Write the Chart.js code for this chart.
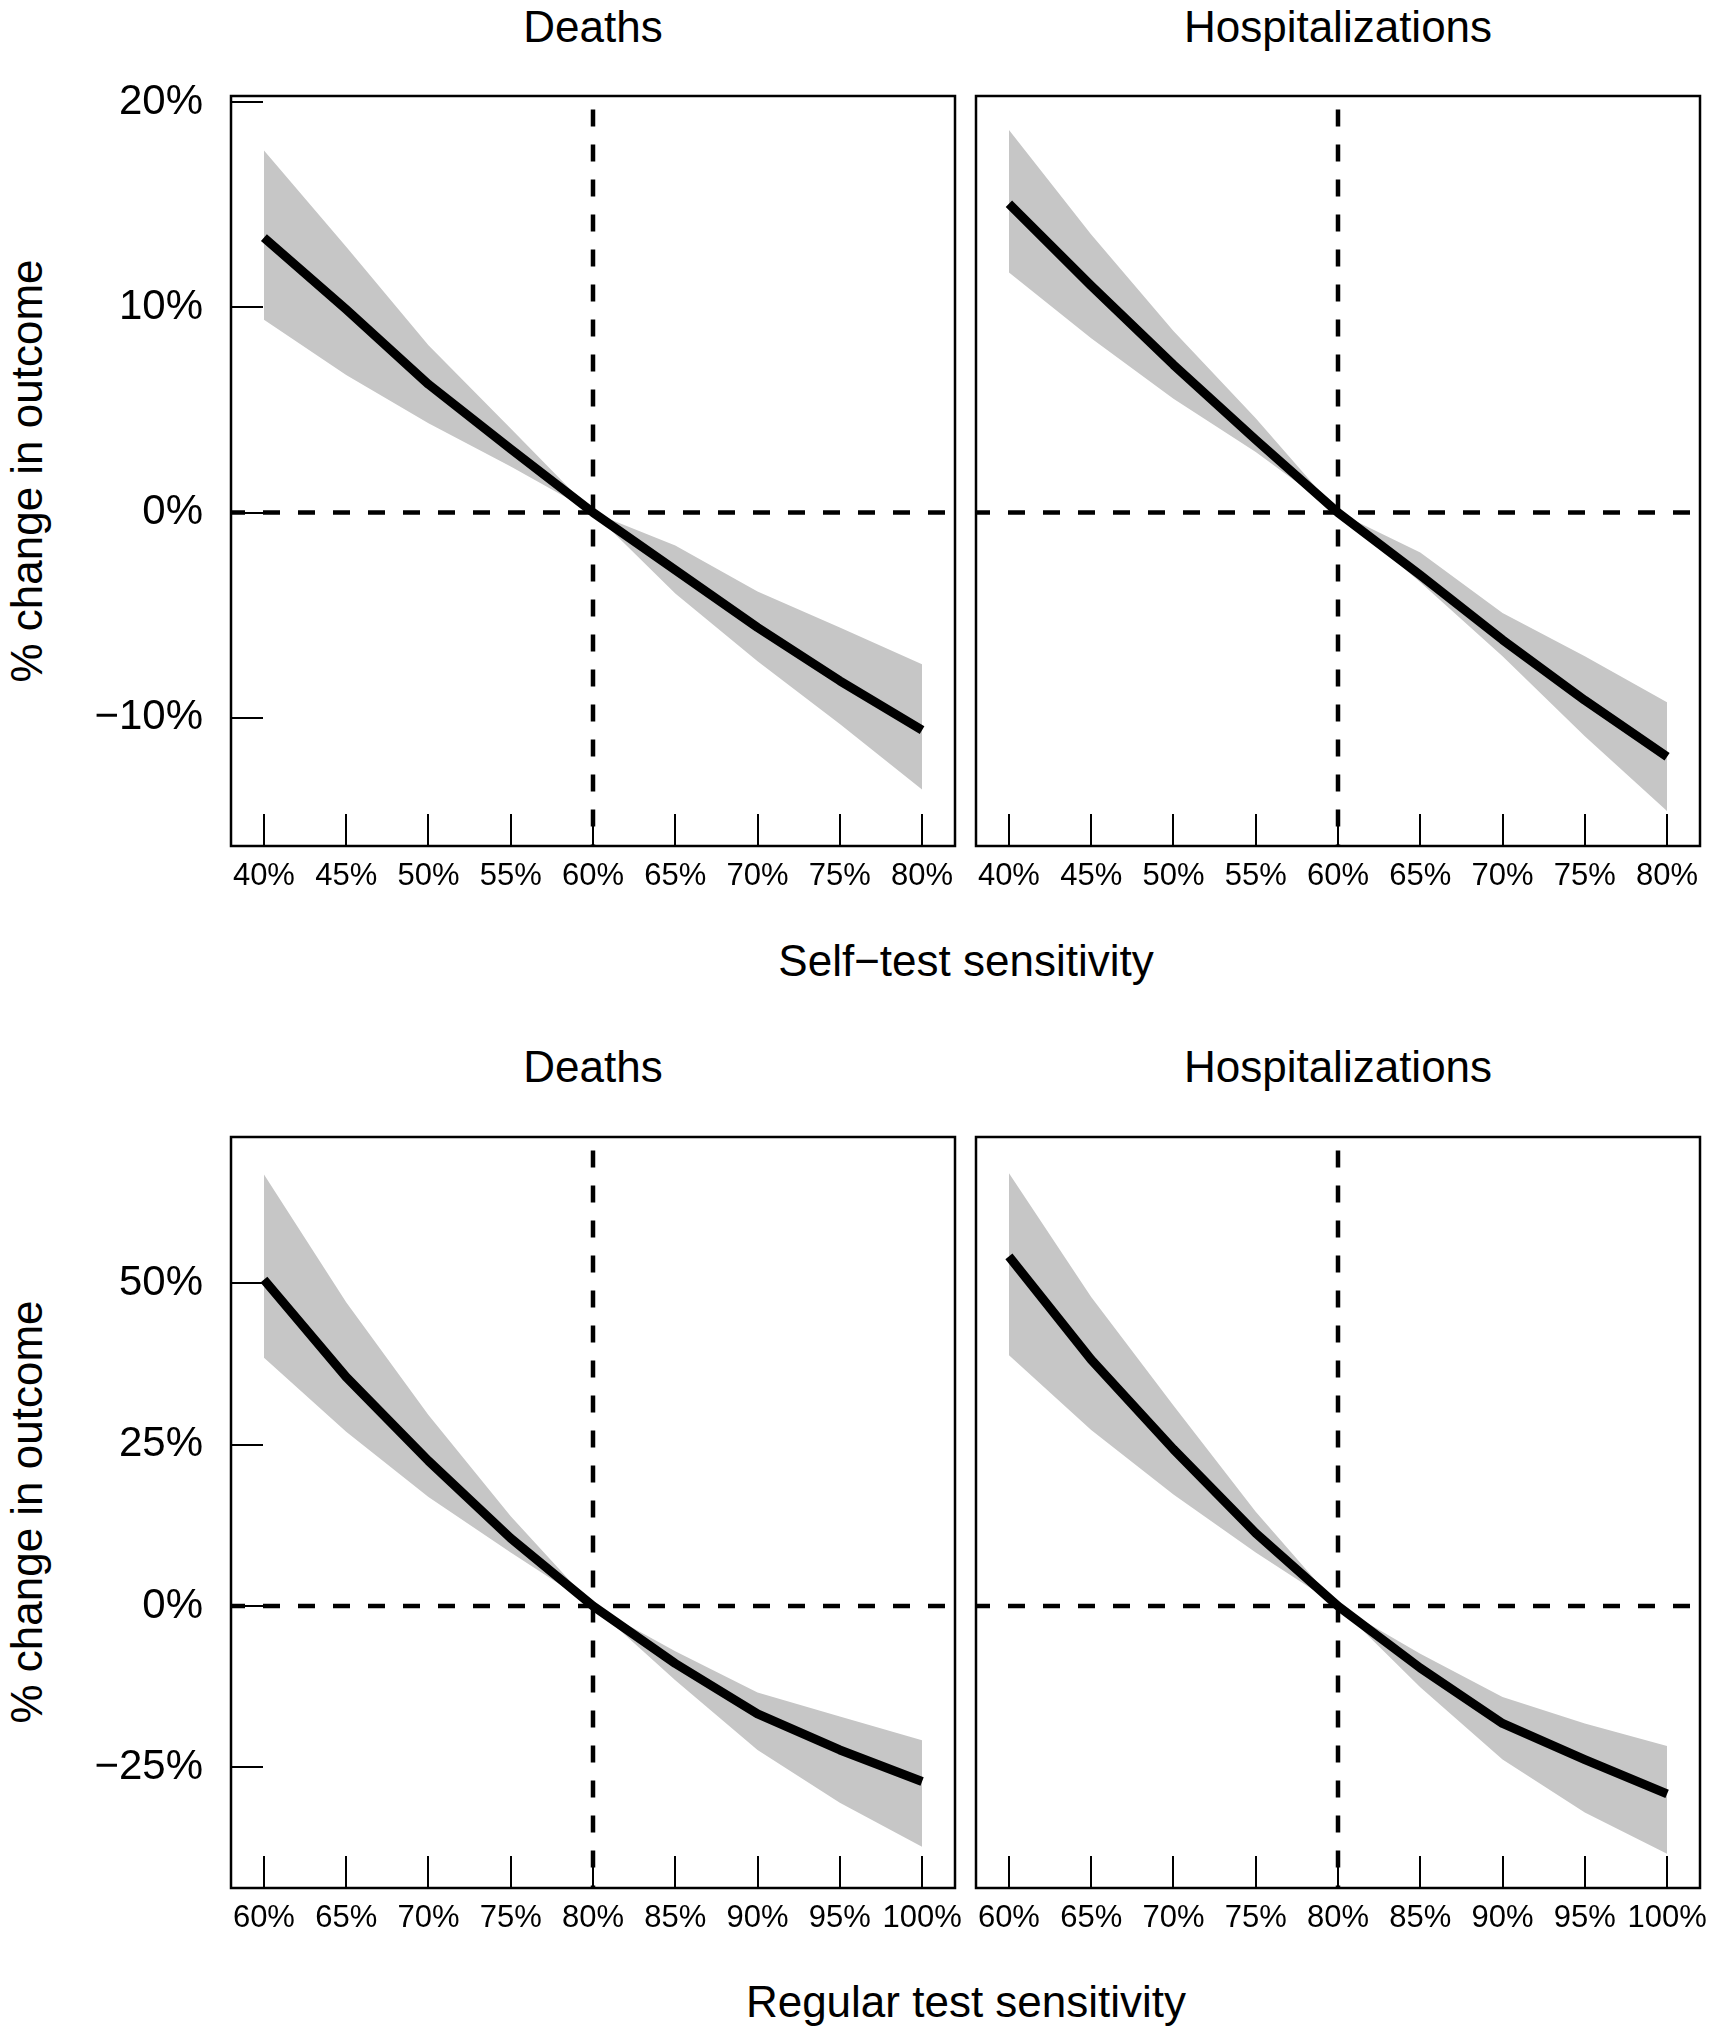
<!DOCTYPE html>
<html><head><meta charset="utf-8">
<script src="https://cdn.jsdelivr.net/npm/chart.js@4.4.1/dist/chart.umd.min.js"></script>
<style>
html,body{margin:0;padding:0;background:#fff;}
body{width:1713px;height:2031px;position:relative;overflow:hidden;font-family:'Liberation Sans',Arial,Helvetica,sans-serif;color:#000;}
canvas{position:absolute;}
.t{position:absolute;font-size:44px;line-height:44px;white-space:nowrap;text-align:center;width:800px;}
.yt{position:absolute;font-size:44px;line-height:44px;white-space:nowrap;text-align:center;width:800px;transform:rotate(-90deg);}
</style></head>
<body>
<div class="t" style="left:193px;top:5px">Deaths</div>
<div class="t" style="left:938px;top:5px">Hospitalizations</div>
<div class="t" style="left:193px;top:1045px">Deaths</div>
<div class="t" style="left:938px;top:1045px">Hospitalizations</div>
<div class="t" style="left:566px;top:939px">Self−test sensitivity</div>
<div class="t" style="left:566px;top:1980px">Regular test sensitivity</div>
<div class="yt" style="left:-373px;top:449px">% change in outcome</div>
<div class="yt" style="left:-373px;top:1490px">% change in outcome</div>
<canvas id="c1" width="985" height="860" style="left:0px;top:46px"></canvas>
<canvas id="c2" width="753" height="860" style="left:960px;top:46px"></canvas>
<canvas id="c3" width="985" height="861" style="left:0px;top:1087px"></canvas>
<canvas id="c4" width="753" height="861" style="left:960px;top:1087px"></canvas>
<script>
// ---- data ----
const selfX = [40, 45, 50, 55, 60, 65, 70, 75, 80];
const regX  = [60, 65, 70, 75, 80, 85, 90, 95, 100];

const selfYTicks = [-10, 0, 10, 20];
const regYTicks  = [-25, 0, 25, 50];

// Deaths vs self-test sensitivity
const deathsSelfMid   = [13.4, 9.9, 6.25, 3.1, 0, -2.8, -5.6, -8.2, -10.6];
const deathsSelfUpper = [17.65, 12.95, 8.15, 4.1, 0, -1.6, -3.85, -5.6, -7.4];
const deathsSelfLower = [9.4, 6.7, 4.35, 2.25, 0, -3.95, -7.25, -10.3, -13.5];

// Hospitalizations vs self-test sensitivity
const hospSelfMid   = [15.05, 11.05, 7.2, 3.55, 0, -3.05, -6.2, -9.15, -11.9];
const hospSelfUpper = [18.65, 13.55, 8.85, 4.6, 0, -1.95, -4.9, -7.0, -9.25];
const hospSelfLower = [11.7, 8.5, 5.55, 2.95, 0, -3.4, -7.0, -10.9, -14.55];

// Deaths vs regular test sensitivity
const deathsRegMid   = [50.6, 35.5, 22.5, 10.5, 0, -8.9, -16.7, -22.3, -27.2];
const deathsRegUpper = [66.9, 47.1, 29.6, 13.9, 0, -7.0, -13.4, -17.1, -20.8];
const deathsRegLower = [38.5, 27.0, 16.9, 8.3, 0, -11.5, -22.3, -30.5, -37.3];

// Hospitalizations vs regular test sensitivity
const hospRegMid   = [54.2, 38.2, 24.3, 11.3, 0, -9.6, -18.2, -23.8, -29.1];
const hospRegUpper = [67.1, 47.9, 31.1, 14.6, 0, -7.4, -14.1, -18.2, -21.7];
const hospRegLower = [38.9, 27.3, 17.3, 8.3, 0, -12.6, -23.8, -32.0, -38.4];

const selfRefX = 60, regRefX = 80;
const selfXRange = [38, 82], regXRange = [58, 102];
const selfYRange = [-16.25, 20.3], regYRange = [-43.7, 72.7];

// ---- drawing ----
const FONT = "'Liberation Sans', Arial, Helvetica, sans-serif";
const fmt = v => (v < 0 ? '\u2212' : '') + Math.abs(v) + '%';
const pts = (xs, ys) => xs.map((x, i) => ({x: x, y: ys[i]}));

const decor = {
  id: 'decor',
  beforeDatasetsDraw(chart, args, o) {
    const {ctx, chartArea: a, scales: {x, y}} = chart;
    ctx.save();
    ctx.strokeStyle = '#000';
    ctx.lineWidth = 4.5;
    ctx.lineCap = 'butt';
    ctx.setLineDash([17, 18]);
    const py = y.getPixelForValue(0);
    ctx.lineDashOffset = 3;
    ctx.beginPath(); ctx.moveTo(a.left, py); ctx.lineTo(a.right, py); ctx.stroke();
    const px = x.getPixelForValue(o.refX);
    ctx.lineDashOffset = 21.5;
    ctx.beginPath(); ctx.moveTo(px, a.top); ctx.lineTo(px, a.bottom); ctx.stroke();
    ctx.restore();
  },
  afterDatasetsDraw(chart, args, o) {
    const {ctx, chartArea: a, scales: {x, y}} = chart;
    ctx.save();
    ctx.strokeStyle = '#000';
    ctx.setLineDash([]);
    ctx.lineWidth = 2;
    ctx.beginPath();
    x.ticks.forEach(t => {
      const p = Math.round(x.getPixelForValue(t.value));
      ctx.moveTo(p, a.bottom); ctx.lineTo(p, a.bottom - 32);
    });
    if (o.yTicks) {
      y.ticks.forEach(t => {
        const p = Math.round(y.getPixelForValue(t.value));
        ctx.moveTo(a.left, p); ctx.lineTo(a.left + 32, p);
      });
    }
    ctx.stroke();
    ctx.lineWidth = 2.5;
    ctx.strokeRect(a.left, a.top, a.right - a.left, a.bottom - a.top);
    ctx.restore();
  }
};

function makePanel(id, xs, mid, up, lo, xTicks, yTicks, xRange, yRange, refX, showY, pad) {
  new Chart(document.getElementById(id), {
    type: 'line',
    data: {
      datasets: [
        {data: pts(xs, mid), borderColor: '#000', borderWidth: 9, pointRadius: 0,
         borderCapStyle: 'butt', borderJoinStyle: 'round', tension: 0, fill: false},
        {data: pts(xs, up), borderColor: 'rgba(0,0,0,0)', borderWidth: 0, pointRadius: 0,
         backgroundColor: '#c6c6c6', fill: '+1', tension: 0},
        {data: pts(xs, lo), borderColor: 'rgba(0,0,0,0)', borderWidth: 0, pointRadius: 0,
         fill: false, tension: 0}
      ]
    },
    options: {
      responsive: false,
      animation: false,
      events: [],
      layout: {padding: pad},
      plugins: {legend: {display: false}, tooltip: {enabled: false}, title: {display: false},
                decor: {refX: refX, yTicks: showY}},
      scales: {
        x: {
          type: 'linear', min: xRange[0], max: xRange[1],
          grid: {display: false}, border: {display: false},
          afterBuildTicks: s => { s.ticks = xTicks.map(v => ({value: v})); },
          afterFit: s => { s.height = 60; },
          ticks: {color: '#000', font: {family: FONT, size: 31}, padding: 4,
                  maxRotation: 0, autoSkip: false, callback: v => fmt(v)}
        },
        y: {
          type: 'linear', min: yRange[0], max: yRange[1], display: showY,
          grid: {display: false}, border: {display: false},
          afterBuildTicks: s => { s.ticks = yTicks.map(v => ({value: v})); },
          afterFit: s => { s.width = showY ? 231 : 0; },
          ticks: {color: '#000', font: {family: FONT, size: 42}, padding: 20,
                  autoSkip: false, callback: v => fmt(v)}
        }
      }
    },
    plugins: [decor]
  });
}

const padL = {left: 0, top: 50, right: 30, bottom: 0};
const padR = {left: 16, top: 50, right: 13, bottom: 0};

makePanel('c1', selfX, deathsSelfMid, deathsSelfUpper, deathsSelfLower, selfX, selfYTicks, selfXRange, selfYRange, selfRefX, true, padL);
makePanel('c2', selfX, hospSelfMid, hospSelfUpper, hospSelfLower, selfX, selfYTicks, selfXRange, selfYRange, selfRefX, false, padR);
makePanel('c3', regX, deathsRegMid, deathsRegUpper, deathsRegLower, regX, regYTicks, regXRange, regYRange, regRefX, true, padL);
makePanel('c4', regX, hospRegMid, hospRegUpper, hospRegLower, regX, regYTicks, regXRange, regYRange, regRefX, false, padR);
</script>
</body></html>
